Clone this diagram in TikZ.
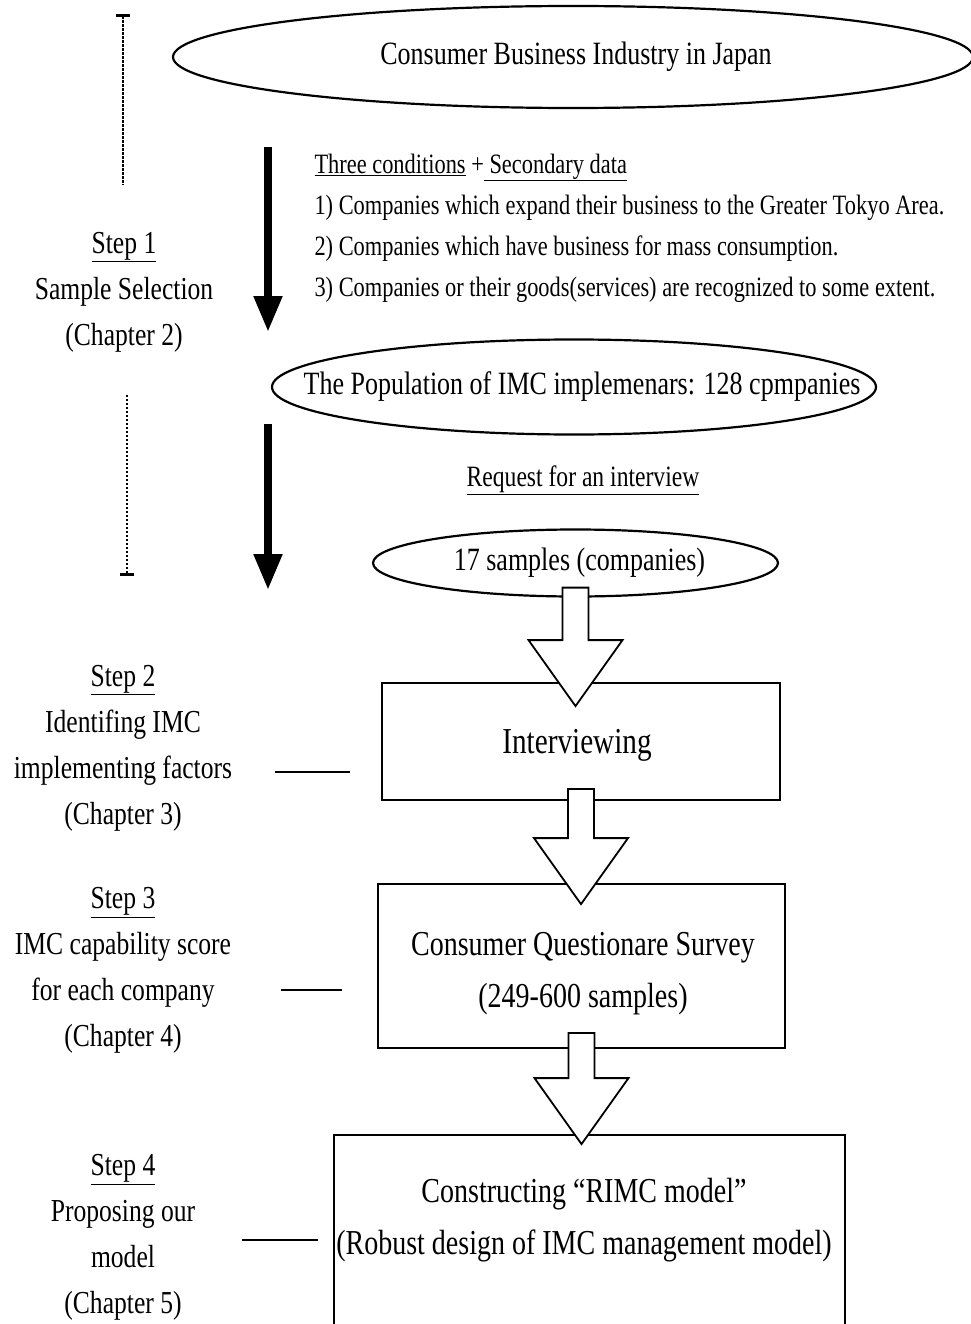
\documentclass[tikz,border=0pt]{standalone}
\usepackage{fontspec}
\setmainfont{Liberation Serif}[FakeStretch=0.8]
\usetikzlibrary{arrows.meta,calc,shapes.geometric}
\tikzset{
  oval/.style={ellipse,draw,line width=2.2pt,inner sep=0pt,font=\fontsize{32.5}{40}\selectfont},
  stage/.style={rectangle,draw,line width=1.8pt,inner sep=0pt,align=center,font=\fontsize{35}{52}\selectfont},
  stagetext/.style={align=center,font=\fontsize{35}{52}\selectfont},
  steplabel/.style={align=center,font=\fontsize{32}{46}\selectfont},
  cond/.style={align=left,font=\fontsize{28}{41}\selectfont},
  downarrow/.style={line width=8pt,-{Triangle[width=27pt,length=36pt]}},
  barcap/.tip={Bar[width=14pt,line width=3pt]},
  dotrule/.style={line width=2.4pt,dash pattern=on 2.4pt off 1.6pt},
  tie/.style={line width=1.6pt},
  hollow/.style={draw,fill=white,line width=1.8pt,line join=miter},
}
% open block arrow from the bottom of one node into the top of the next
\newcommand{\hollowarrow}[4]{%
  \draw[hollow] let \p1=(#1.south), \p2=(#2.north) in
    (\x1-13pt,\y1+#3) -- (\x1+13pt,\y1+#3) -- (\x1+13pt,\y2-#4+66pt) -- (\x1+47pt,\y2-#4+66pt)
    -- (\x1,\y2-#4) -- (\x1-47pt,\y2-#4+66pt) -- (\x1-13pt,\y2-#4+66pt) -- cycle;}
\begin{document}
\begin{tikzpicture}[x=1pt,y=-1pt]
  \useasboundingbox (0,0) rectangle (970,1324);

  % main column
  \node[oval,minimum width=800pt,minimum height=102pt] (industry) at (573,57) {\makebox[0pt]{\kern6pt Consumer Business Industry in Japan}};
  \node[cond,anchor=west] (conds) at (311,228) {\underline{Three conditions} +\underline{ Secondary data}\\
    1) Companies which expand their business to the Greater Tokyo Area.\\
    2) Companies which have business for mass consumption.\\
    3) Companies or their goods(services) are recognized to some extent.};
  \node[oval,minimum width=604pt,minimum height=95pt] (population) at (574,387) {\makebox[0pt]{\kern16pt The Population of IMC implemenars: 128 cpmpanies}};
  \node[font=\fontsize{29.5}{36}\selectfont] (request) at (583,480) {\underline{Request for an interview}};
  \node[oval,minimum width=405pt,minimum height=67pt] (samples) at (575.5,563) {\makebox[0pt]{\kern8pt 17 samples (companies)}};
  \node[stage,minimum width=398pt,minimum height=117pt] (interview) at (581,741.5) {};
  \node[stagetext,font=\fontsize{36.5}{46}\selectfont] (interviewtext) at (577,745) {Interviewing};
  \node[stage,minimum width=407pt,minimum height=164pt] (survey) at (581.5,966) {};
  \node[stagetext] (surveytext) at (583,974) {Consumer Questionare Survey\\(249-600 samples)};
  \node[stage,minimum width=511pt,minimum height=215pt] (model) at (589.5,1242.5) {};
  \node[stagetext] (modeltext) at (584,1220) {Constructing ``RIMC model''\\(Robust design of IMC management model)};

  \hollowarrow{samples}{interview}{10pt}{24pt}
  \hollowarrow{interview}{survey}{12pt}{21pt}
  \hollowarrow{survey}{model}{16pt}{10pt}

  % step 1 side
  \coordinate (a1top) at (268,147);
  \coordinate (a1tip) at (268,332);
  \coordinate (a2top) at (268,424);
  \coordinate (a2tip) at (268,590);
  \draw[downarrow] (a1top) -- (a1tip);
  \draw[downarrow] (a2top) -- (a2tip);
  \coordinate (dot1a) at (123,14);
  \coordinate (dot1b) at (123,185);
  \coordinate (dot2a) at (127,395);
  \coordinate (dot2b) at (127,576);
  \draw[dotrule,barcap-] (dot1a) -- (dot1b);
  \draw[dotrule,-barcap] (dot2a) -- (dot2b);
  \node[steplabel] (step1) at (124,292) {\underline{Step 1}\\Sample Selection\\(Chapter 2)};

  % steps 2-4
  \node[steplabel] (step2) at (123,748) {\underline{Step 2}\\Identifing IMC\\implementing factors\\(Chapter 3)};
  \node[steplabel] (step3) at (123,970.5) {\underline{Step 3}\\IMC capability score\\for each company\\(Chapter 4)};
  \node[steplabel] (step4) at (123,1237.5) {\underline{Step 4}\\Proposing our\\model\\(Chapter 5)};
  \coordinate (tie2a) at (275,772);
  \coordinate (tie2b) at (350,772);
  \coordinate (tie3a) at (281,990);
  \coordinate (tie3b) at (342,990);
  \coordinate (tie4a) at (242,1240);
  \coordinate (tie4b) at (318,1240);
  \draw[tie] (tie2a) -- (tie2b);
  \draw[tie] (tie3a) -- (tie3b);
  \draw[tie] (tie4a) -- (tie4b);
\end{tikzpicture}
\end{document}
